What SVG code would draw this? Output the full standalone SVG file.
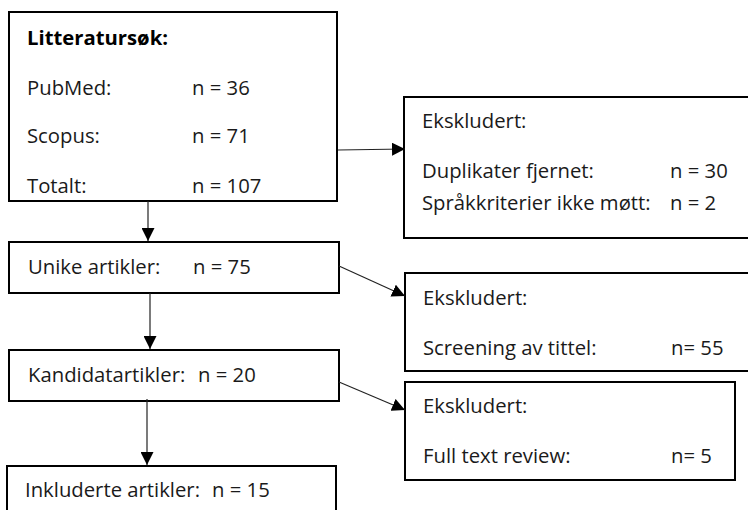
<svg xmlns="http://www.w3.org/2000/svg" width="748" height="510" viewBox="0 0 748 510">
<defs>
<marker id="ah" markerWidth="13" markerHeight="13" refX="13" refY="6.5" orient="auto" markerUnits="userSpaceOnUse">
<path d="M0,0 L13,6.5 L0,13 Z" fill="#000"/>
</marker>
</defs>
<style>
rect{fill:#fff;stroke:#000;stroke-width:2}
text{font-family:"Open Sans","Liberation Sans",sans-serif;font-size:20.3px;fill:#1a1a1a}
.b{font-weight:bold;fill:#000}
.c line{stroke:#222;stroke-width:1.2;marker-end:url(#ah)}
</style>
<rect x="0" y="0" width="748" height="510" style="fill:#fff;stroke:none"/>
<g id="litteratursok">
<rect x="9" y="12" width="328" height="189"/>
<text class="b" x="27" y="45">Litteratursøk:</text>
<text x="27" y="95">PubMed:</text><text x="192" y="95">n = 36</text>
<text x="27" y="143">Scopus:</text><text x="192" y="143">n = 71</text>
<text x="27" y="193">Totalt:</text><text x="192" y="193">n = 107</text>
</g>
<g id="ekskludert1">
<rect x="404" y="97" width="350" height="141"/>
<text x="422" y="128">Ekskludert:</text>
<text x="422" y="178">Duplikater fjernet:</text><text x="670" y="178">n = 30</text>
<text x="422" y="210">Språkkriterier ikke møtt:</text><text x="670" y="210">n = 2</text>
</g>
<g id="unike">
<rect x="9" y="242" width="330" height="51"/>
<text x="28" y="274">Unike artikler:</text><text x="193" y="274">n = 75</text>
</g>
<g id="ekskludert2">
<rect x="405" y="273" width="350" height="98"/>
<text x="423" y="305">Ekskludert:</text>
<text x="423" y="355">Screening av tittel:</text><text x="671" y="355">n= 55</text>
</g>
<g id="kandidat">
<rect x="9" y="350" width="330" height="51"/>
<text x="28" y="382">Kandidatartikler:</text><text x="198" y="382">n = 20</text>
</g>
<g id="ekskludert3">
<rect x="405" y="382" width="330" height="98"/>
<text x="423" y="413">Ekskludert:</text>
<text x="423" y="463">Full text review:</text><text x="671" y="463">n= 5</text>
</g>
<g id="inkluderte">
<rect x="7" y="466" width="329" height="60"/>
<text x="25" y="497">Inkluderte artikler:</text><text x="212" y="497">n = 15</text>
</g>
<g class="c" id="connectors">
<line x1="338" y1="150" x2="405" y2="149"/>
<line x1="148" y1="201" x2="148" y2="241"/>
<line x1="150" y1="293" x2="150" y2="349"/>
<line x1="147" y1="399" x2="147" y2="465"/>
<line x1="339" y1="266" x2="405" y2="296"/>
<line x1="339" y1="382" x2="405" y2="410"/>
</g>
</svg>
